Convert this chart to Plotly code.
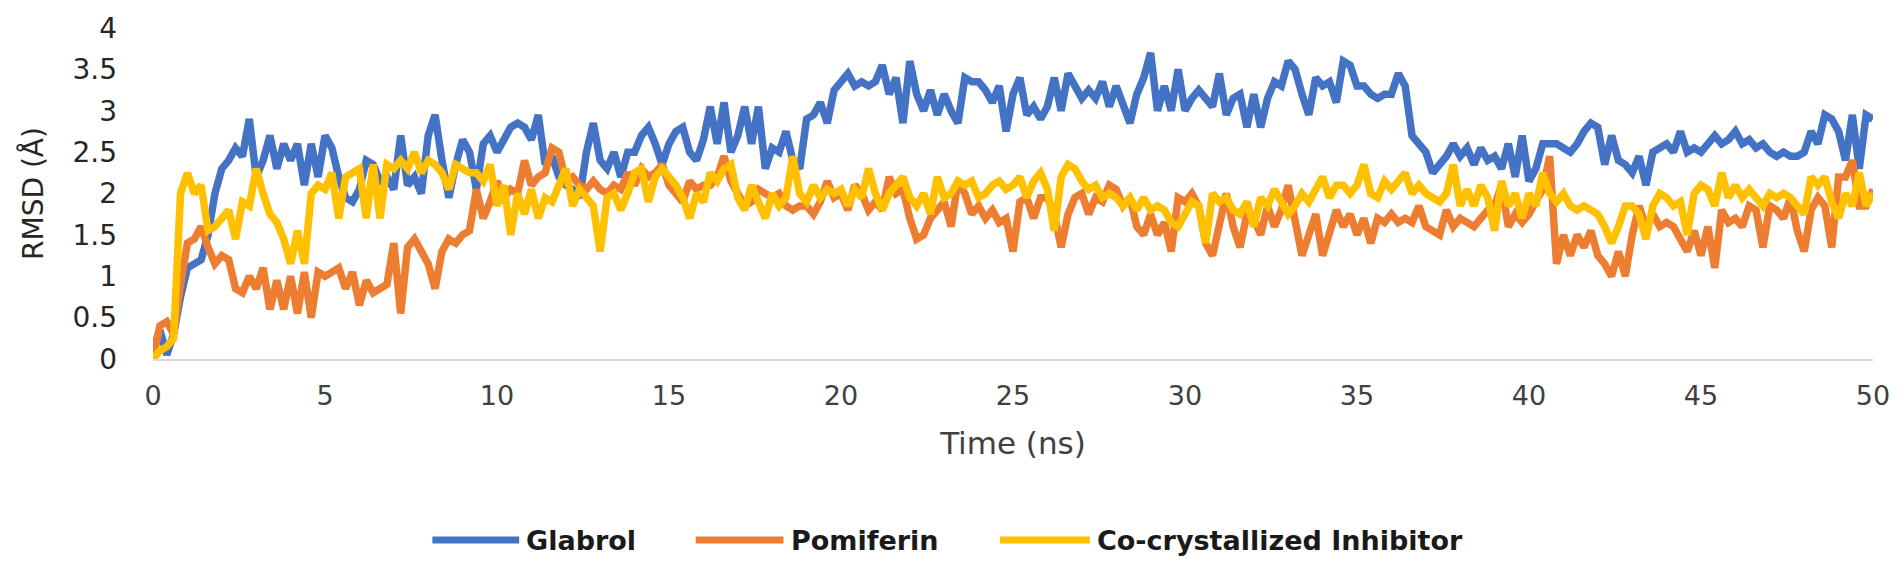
import plotly.graph_objects as go

time_ns = [round(i * 0.2, 1) for i in range(251)]

glabrol = [
    0.1, 0.35, 0.05, 0.3, 0.75, 1.1, 1.15, 1.2, 1.5, 2.0,
    2.3, 2.4, 2.55, 2.45, 2.9, 2.2, 2.4, 2.7, 2.3, 2.6,
    2.4, 2.6, 2.1, 2.6, 2.2, 2.7, 2.55, 2.2, 1.95, 1.9,
    2.05, 2.4, 2.35, 2.15, 2.2, 2.05, 2.7, 2.1, 2.2, 2.0,
    2.7, 2.95, 2.4, 1.95, 2.35, 2.65, 2.5, 2.05, 2.6, 2.7,
    2.5,
    2.65, 2.8, 2.85, 2.8, 2.65, 2.95, 2.35, 2.45, 2.2, 2.1,
    2.05, 1.95, 2.5, 2.85, 2.4, 2.3, 2.5, 2.2, 2.5, 2.5,
    2.7, 2.8, 2.6, 2.35, 2.6, 2.75, 2.8, 2.5, 2.4, 2.65,
    3.05, 2.6, 3.1, 2.5, 2.7, 3.05, 2.6, 3.05, 2.3, 2.55,
    2.5, 2.75, 2.4, 2.3, 2.9, 2.95, 3.1, 2.85, 3.25, 3.35,
    3.45, 3.3, 3.35, 3.3, 3.35, 3.55, 3.2, 3.4, 2.85, 3.6,
    3.2, 3.0, 3.25, 2.95, 3.2, 3.0, 2.85, 3.4, 3.35,
    3.35, 3.25, 3.1, 3.3, 2.75, 3.2, 3.4, 2.95, 3.05, 2.9,
    3.05, 3.4, 3.0, 3.45, 3.3, 3.15, 3.25, 3.15, 3.35, 3.05,
    3.3, 3.05, 2.85, 3.2, 3.4, 3.7, 3.0, 3.3, 3.0, 3.5,
    3.0, 3.15, 3.25, 3.15, 3.05, 3.45, 2.95, 3.15, 3.2, 2.8,
    3.2, 2.8, 3.15, 3.35, 3.3, 3.6, 3.5, 3.2, 2.95, 3.4,
    3.3, 3.35, 3.1, 3.6, 3.55, 3.3, 3.3, 3.2, 3.15, 3.2,
    3.2, 3.45, 3.3, 2.7, 2.6, 2.5, 2.25, 2.35, 2.45, 2.6,
    2.45, 2.55, 2.35, 2.55, 2.4, 2.45, 2.3, 2.6, 2.2, 2.7,
    2.15, 2.3, 2.6, 2.6, 2.6, 2.55, 2.5, 2.6, 2.75, 2.85,
    2.8, 2.35, 2.7, 2.4, 2.35, 2.25, 2.45, 2.1, 2.5, 2.55,
    2.6, 2.5, 2.75, 2.5, 2.55, 2.5, 2.6, 2.7, 2.6, 2.65,
    2.75, 2.6, 2.65, 2.55, 2.6, 2.5, 2.45, 2.5, 2.45, 2.45,
    2.5, 2.75, 2.6, 2.95, 2.9, 2.75, 2.4, 2.95, 2.3, 2.95,
    2.9,
]

pomiferin = [
    0.0, 0.4, 0.45, 0.3, 0.9, 1.4, 1.45, 1.6, 1.35, 1.15,
    1.25, 1.2, 0.85, 0.8, 1.0, 0.85, 1.1, 0.6, 0.95, 0.6,
    1.0, 0.55, 1.05, 0.5, 1.05, 1.0, 1.05, 1.1, 0.85, 1.05,
    0.65, 0.95, 0.8, 0.85, 0.9, 1.4, 0.55, 1.35, 1.45, 1.3,
    1.15, 0.85, 1.3, 1.45, 1.4, 1.5, 1.55, 2.05, 1.7, 1.9,
    2.15,
    1.95, 2.05, 2.0, 2.4, 2.1, 2.2, 2.25, 2.55, 2.5, 2.15,
    2.2, 2.1, 2.05, 2.15, 2.05, 2.0, 2.1, 2.05, 2.25, 2.1,
    2.3, 2.2, 2.25, 2.35, 2.1, 2.0, 1.9, 2.15, 2.05, 2.1,
    2.1, 2.2, 2.45, 2.15, 2.0, 1.85, 1.9, 2.05, 2.0, 1.95,
    2.0, 1.85, 1.8, 1.85, 1.85, 1.75, 1.9, 2.15, 1.95, 2.0,
    1.8, 2.1, 2.0, 1.8, 1.9, 1.8, 2.2, 2.0, 2.05, 1.7,
    1.45, 1.5, 1.7, 1.8, 1.9, 1.6, 2.15, 2.0, 1.75,
    1.85, 1.7, 1.8, 1.65, 1.7, 1.3, 1.9, 1.95, 1.7, 1.95,
    1.95, 1.75, 1.35, 1.75, 1.95, 2.0, 1.75, 1.95, 1.9, 2.1,
    2.05, 1.85, 1.95, 1.6, 1.5, 1.75, 1.5, 1.65, 1.3, 1.95,
    1.9, 2.0, 1.85, 1.4, 1.25, 1.6, 2.0, 1.6, 1.35, 1.75,
    1.7, 1.5, 1.85, 1.6, 1.8, 2.1, 1.7, 1.25, 1.5, 1.75,
    1.25, 1.55, 1.8, 1.6, 1.75, 1.5, 1.7, 1.4, 1.7, 1.65,
    1.75, 1.65, 1.7, 1.65, 1.85, 1.6, 1.55, 1.5, 1.8, 1.6,
    1.7, 1.65, 1.6, 1.7, 1.8, 1.85, 2.1, 1.6, 1.75, 1.65,
    1.75, 1.9, 2.05, 2.45, 1.15, 1.5, 1.25, 1.5, 1.35, 1.55,
    1.25, 1.15, 1.0, 1.3, 1.0, 1.5, 1.85, 1.6, 1.75, 1.6,
    1.65, 1.6, 1.45, 1.3, 1.55, 1.25, 1.6, 1.1, 1.8, 1.65,
    1.7, 1.6, 1.85, 1.8, 1.35, 1.85, 1.8, 1.7, 1.95, 1.55,
    1.3, 1.8, 1.95, 1.85, 1.35, 2.2, 2.2, 2.4, 1.85, 1.85,
    2.05,
]

co_crystallized = [
    0.0, 0.1, 0.15, 0.25, 2.0, 2.25, 2.0, 2.1, 1.55, 1.6,
    1.7, 1.8, 1.45, 1.9, 1.85, 2.3, 2.0, 1.75, 1.65, 1.45,
    1.15, 1.55, 1.15, 2.0, 2.1, 2.05, 2.25, 1.7, 2.2, 2.25,
    2.3, 1.7, 2.35, 1.7, 2.35, 2.3, 2.4, 2.3, 2.5, 2.25,
    2.4, 2.35, 2.25, 2.05, 2.35, 2.3, 2.25, 2.25, 2.15, 2.35,
    1.85,
    2.1, 1.5, 2.0, 1.75, 2.05, 1.7, 1.95, 1.9, 2.1, 2.3,
    1.85, 2.05, 1.95, 1.85, 1.3, 1.95, 2.0, 1.8, 2.0, 2.25,
    2.3, 1.9, 2.2, 2.3, 2.2, 2.1, 1.95, 1.7, 2.0, 1.9,
    2.25, 2.15, 2.3, 2.35, 1.95, 1.8, 2.1, 1.9, 1.7, 2.0,
    1.85, 1.95, 2.45, 2.0, 1.9, 2.1, 1.95, 2.05, 2.0, 2.05,
    1.85, 2.05, 1.95, 2.3, 2.0, 1.8, 2.0, 2.1, 2.2, 1.95,
    1.85, 2.0, 1.75, 2.2, 1.95, 2.0, 2.15, 2.1, 2.15,
    1.95, 2.0, 2.1, 2.15, 2.05, 2.1, 2.2, 1.95, 2.15, 2.25,
    2.05, 1.55, 2.2, 2.35, 2.3, 2.15, 2.05, 2.1, 1.95, 2.0,
    1.95, 1.85, 1.95, 1.8, 1.95, 1.8, 1.85, 1.8, 1.65, 1.6,
    1.75, 1.9, 1.85, 1.4, 2.0, 1.9, 1.95, 1.8, 1.75, 1.9,
    1.6, 1.95, 1.85, 2.05, 1.9, 1.75, 1.85, 2.0, 1.9, 2.05,
    2.2, 1.95, 2.1, 2.1, 2.0, 2.1, 2.35, 2.0, 1.95, 2.15,
    2.05, 2.15, 2.25, 2.0, 2.1, 2.0, 1.95, 1.9, 2.0, 2.35,
    1.85, 2.05, 1.85, 2.1, 1.95, 1.55, 2.15, 1.85, 2.0, 1.7,
    2.0, 1.85, 2.25, 2.0, 1.9, 2.0, 1.85, 1.8, 1.85, 1.8,
    1.75, 1.6, 1.4, 1.6, 1.85, 1.85, 1.75, 1.45, 1.85, 2.0,
    1.95, 1.85, 1.9, 1.5, 2.0, 2.1, 2.05, 1.85, 2.25, 1.95,
    2.1, 1.95, 2.05, 1.95, 1.85, 2.0, 1.95, 2.0, 1.95, 1.85,
    1.75, 2.2, 2.1, 2.2, 1.9, 1.7, 2.0, 1.85, 2.25, 1.85,
    2.0,
]

series_names = ["Glabrol", "Pomiferin", "Co-crystallized Inhibitor"]
series_colors = ["#4472C4", "#ED7D31", "#FFC000"]
x_ticks = [0, 5, 10, 15, 20, 25, 30, 35, 40, 45, 50]
y_ticks = [0, 0.5, 1, 1.5, 2, 2.5, 3, 3.5, 4]

FONT = "DejaVu Sans"
W, H = 1902, 563
ML, MR, MT, MB = 153, 25, 19, 204
PW, PH = W - ML - MR, H - MT - MB


def px_to_paper_x(px):
    return (px - ML) / PW


def px_to_paper_y(py):
    return (H - MB - py) / PH


fig = go.Figure()
for name, vals, col in zip(series_names, [glabrol, pomiferin, co_crystallized], series_colors):
    fig.add_trace(go.Scatter(
        x=time_ns, y=vals, mode="lines", name=name,
        line=dict(color=col, width=7.5, shape="linear"),
        showlegend=False,
    ))

# custom legend (long line keys like the reference)
legend_key_px = [(433, 520), (697, 785), (1002, 1092)]
legend_y_px = 545
for (x0, x1), name, col in zip(legend_key_px, series_names, series_colors):
    fig.add_shape(
        type="line", xref="paper", yref="paper",
        x0=px_to_paper_x(x0), x1=px_to_paper_x(x1),
        y0=px_to_paper_y(legend_y_px), y1=px_to_paper_y(legend_y_px),
        line=dict(color=col, width=7),
    )
    fig.add_annotation(
        xref="paper", yref="paper",
        x=px_to_paper_x(x1 + 5), y=px_to_paper_y(legend_y_px),
        xanchor="left", yanchor="middle", showarrow=False,
        text=f"<b>{name}</b>",
        font=dict(family=FONT, size=27, color="#1a1a1a"),
    )

fig.update_layout(
    width=W, height=H,
    paper_bgcolor="white", plot_bgcolor="white",
    margin=dict(l=ML, r=MR, t=MT, b=MB),
    font=dict(family=FONT, color="#404040", size=28),
    showlegend=False,
)
fig.update_xaxes(
    range=[0, 50], tickvals=x_ticks, ticks="", showgrid=False, zeroline=False,
    showline=True, linecolor="#D9D9D9", linewidth=2,
    tickfont=dict(family=FONT, size=27, color="#404040"), ticklabelstandoff=12,
    title=dict(text="Time (ns)", font=dict(family=FONT, size=31, color="#404040"), standoff=22),
)
fig.update_yaxes(
    range=[0, 4], tickvals=y_ticks, ticks="", showgrid=False, zeroline=False,
    showline=False, tickfont=dict(family=FONT, size=28, color="#262626"), ticklabelstandoff=35,
    title=dict(text="RMSD (Å)", font=dict(family=FONT, size=28, color="#262626"), standoff=20),
)

fig.write_html(
    "out.html",
    config={"displayModeBar": False},
    post_script="document.body.style.margin='0px';document.body.style.overflow='hidden';",
)
